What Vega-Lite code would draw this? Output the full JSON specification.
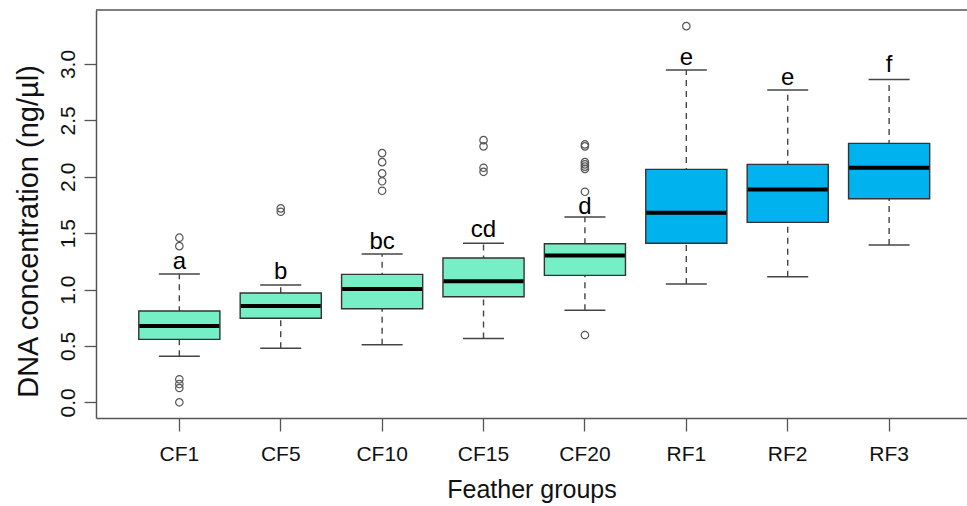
{
  "$schema": "https://vega.github.io/schema/vega-lite/v6.json",
  "autosize": {"type": "none"},
  "padding": {"left": 96, "top": 10, "right": 0, "bottom": 88},
  "width": 871,
  "height": 408,
  "background": "white",
  "config": {
    "view": {"stroke": null},
    "font": "Liberation Sans",
    "axis": {"grid": false, "domainColor": "#555", "domainWidth": 1.5, "tickColor": "#555", "tickWidth": 1.3, "labelColor": "#111", "titleColor": "#111", "labelFont": "Liberation Sans", "titleFont": "Liberation Sans", "titleFontWeight": "normal"}
  },
  "datasets": {
    "boxes": [
      {"group": "CF1", "type": "CF", "lower": 0.408, "q1": 0.558, "median": 0.676, "q3": 0.81, "upper": 1.137, "letter": "a", "ly": 1.24},
      {"group": "CF5", "type": "CF", "lower": 0.48, "q1": 0.745, "median": 0.854, "q3": 0.97, "upper": 1.04, "letter": "b", "ly": 1.155},
      {"group": "CF10", "type": "CF", "lower": 0.51, "q1": 0.83, "median": 1.004, "q3": 1.135, "upper": 1.316, "letter": "bc", "ly": 1.42},
      {"group": "CF15", "type": "CF", "lower": 0.567, "q1": 0.936, "median": 1.073, "q3": 1.28, "upper": 1.41, "letter": "cd", "ly": 1.527},
      {"group": "CF20", "type": "CF", "lower": 0.816, "q1": 1.126, "median": 1.303, "q3": 1.406, "upper": 1.643, "letter": "d", "ly": 1.73},
      {"group": "RF1", "type": "RF", "lower": 1.05, "q1": 1.41, "median": 1.68, "q3": 2.066, "upper": 2.946, "letter": "e", "ly": 3.05},
      {"group": "RF2", "type": "RF", "lower": 1.113, "q1": 1.596, "median": 1.888, "q3": 2.11, "upper": 2.77, "letter": "e", "ly": 2.88},
      {"group": "RF3", "type": "RF", "lower": 1.394, "q1": 1.805, "median": 2.08, "q3": 2.296, "upper": 2.863, "letter": "f", "ly": 2.99}
    ],
    "outliers": [
      {"group": "CF1", "value": 1.46}, {"group": "CF1", "value": 1.385},
      {"group": "CF1", "value": 0.204}, {"group": "CF1", "value": 0.162}, {"group": "CF1", "value": 0.127}, {"group": "CF1", "value": 0.0},
      {"group": "CF5", "value": 1.72}, {"group": "CF5", "value": 1.69},
      {"group": "CF10", "value": 2.21}, {"group": "CF10", "value": 2.13}, {"group": "CF10", "value": 2.03}, {"group": "CF10", "value": 1.96}, {"group": "CF10", "value": 1.876},
      {"group": "CF15", "value": 2.325}, {"group": "CF15", "value": 2.27}, {"group": "CF15", "value": 2.08}, {"group": "CF15", "value": 2.044},
      {"group": "CF20", "value": 2.287}, {"group": "CF20", "value": 2.27}, {"group": "CF20", "value": 2.13}, {"group": "CF20", "value": 2.11}, {"group": "CF20", "value": 2.09}, {"group": "CF20", "value": 2.07}, {"group": "CF20", "value": 1.867}, {"group": "CF20", "value": 0.597},
      {"group": "RF1", "value": 3.336}
    ]
  },
  "layer": [
    {
      "data": {"name": "boxes"},
      "mark": {"type": "rule", "strokeDash": [6, 5], "color": "#444", "strokeWidth": 1.4},
      "encoding": {
        "x": {"field": "group", "type": "nominal",
          "scale": {"type": "band", "domain": ["CF1", "CF5", "CF10", "CF15", "CF20", "RF1", "RF2", "RF3"], "paddingInner": 0.2, "paddingOuter": 0.395, "align": 0.534},
          "axis": {"title": "Feather groups", "labelAngle": 0, "labelFontSize": 21, "titleFontSize": 25, "tickSize": 13, "labelPadding": 12, "titlePadding": 13}},
        "y": {"field": "lower", "type": "quantitative",
          "scale": {"domain": [-0.139, 3.479], "nice": false, "zero": false},
          "axis": {"title": "DNA concentration (ng/µl)", "values": [0, 0.5, 1, 1.5, 2, 2.5, 3], "format": ".1f", "labelAngle": -90, "labelAlign": "center", "labelBaseline": "bottom", "labelFontSize": 21, "titleFontSize": 29, "tickSize": 12, "labelPadding": 6, "titlePadding": 14, "titleY": 221}},
        "y2": {"field": "upper"}
      }
    },
    {
      "data": {"name": "boxes"},
      "mark": {"type": "bar", "stroke": "#333", "strokeWidth": 1.4},
      "encoding": {
        "x": {"field": "group", "type": "nominal"},
        "y": {"field": "q1", "type": "quantitative"},
        "y2": {"field": "q3"},
        "fill": {"field": "type", "type": "nominal", "scale": {"domain": ["CF", "RF"], "range": ["#76EEC6", "#00B2EE"]}, "legend": null}
      }
    },
    {
      "data": {"name": "boxes"},
      "mark": {"type": "tick", "color": "#000", "size": 80, "thickness": 4, "opacity": 1},
      "encoding": {
        "x": {"field": "group", "type": "nominal"},
        "y": {"field": "median", "type": "quantitative"}
      }
    },
    {
      "data": {"name": "boxes"},
      "mark": {"type": "tick", "color": "#444", "size": 41, "thickness": 1.5, "opacity": 1},
      "encoding": {
        "x": {"field": "group", "type": "nominal"},
        "y": {"field": "lower", "type": "quantitative"}
      }
    },
    {
      "data": {"name": "boxes"},
      "mark": {"type": "tick", "color": "#444", "size": 41, "thickness": 1.5, "opacity": 1},
      "encoding": {
        "x": {"field": "group", "type": "nominal"},
        "y": {"field": "upper", "type": "quantitative"}
      }
    },
    {
      "data": {"name": "outliers"},
      "mark": {"type": "point", "shape": "circle", "filled": false, "size": 55, "stroke": "#555", "strokeWidth": 1.2, "opacity": 1},
      "encoding": {
        "x": {"field": "group", "type": "nominal"},
        "y": {"field": "value", "type": "quantitative"}
      }
    },
    {
      "data": {"name": "boxes"},
      "mark": {"type": "text", "fontSize": 24, "baseline": "middle", "align": "center", "color": "#000"},
      "encoding": {
        "x": {"field": "group", "type": "nominal"},
        "y": {"field": "ly", "type": "quantitative"},
        "text": {"field": "letter"}
      }
    },
    {
      "data": {"values": [{}]},
      "mark": {"type": "rule", "color": "#555", "strokeWidth": 1.5},
      "encoding": {"y": {"datum": 3.479}}
    }
  ]
}
